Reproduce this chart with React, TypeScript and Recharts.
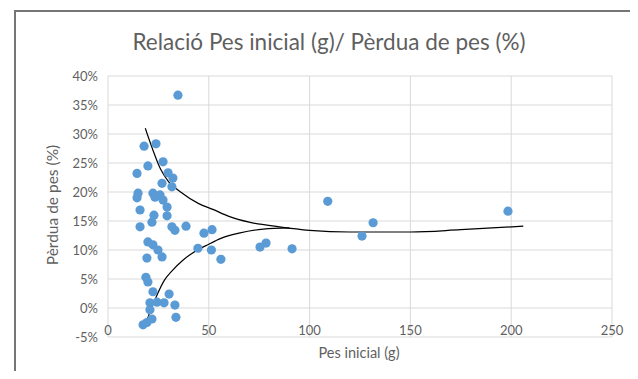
import { ComposedChart, Scatter, Line, XAxis, YAxis, CartesianGrid } from 'recharts'

// pes inicial (g) de cada mostra
const pesInicial = [
    34.7, 17.9, 23.8, 19.8, 27.3, 14.4, 29.8, 32.2, 26.8, 31.7,
    14.9, 22.3, 25.8, 14.4, 23.3, 27.3, 29.3, 15.9, 22.8, 29.3,
    21.8, 15.9, 31.7, 33.2, 38.7, 19.8, 22.3, 24.8, 26.8, 19.3,
    47.6, 51.6, 44.6, 51.3, 56, 75.4, 78.4, 91.3, 109, 126,
    131.5, 198.4, 18.8, 19.8, 22.3, 30.3, 20.8, 24.3, 27.8, 33.2,
    20.8, 33.7, 21.8, 17.4, 19.3,
]
// pèrdua de pes (%) de cada mostra
const perduaPes = [
    36.7, 27.9, 28.3, 24.5, 25.2, 23.2, 23.3, 22.4, 21.5, 20.9,
    19.8, 19.8, 19.5, 19.0, 19.1, 18.6, 17.4, 16.9, 16.0, 15.9,
    14.8, 14.0, 14.0, 13.4, 14.1, 11.4, 10.9, 10.0, 8.8, 8.6,
    12.9, 13.5, 10.3, 10.0, 8.4, 10.5, 11.2, 10.2, 18.4, 12.4,
    14.7, 16.7, 5.3, 4.5, 2.8, 2.4, 0.9, 1.0, 0.9, 0.5,
    -0.3, -1.6, -1.9, -2.9, -2.5,
]

// corbes dibuixades a sobre (envolupant superior i inferior)
const corbaSupX = [18.5, 22, 26, 30, 36, 45, 52, 60, 70, 85, 100, 120, 150, 175, 206]
const corbaSupY = [31, 27.5, 24, 21.8, 20, 18, 17, 15.8, 14.8, 14, 13.4, 13.1, 13.1, 13.5, 14.1]
const corbaInfX = [18.5, 21, 24, 28, 32, 37, 42, 50, 56, 65, 77, 90]
const corbaInfY = [-3, -0.5, 2, 4.8, 6.5, 8.2, 9.5, 11, 12, 12.9, 13.6, 13.8]

const xTicks = [0, 50, 100, 150, 200, 250]
const yTicks = [-5, 0, 5, 10, 15, 20, 25, 30, 35, 40]

const punts = pesInicial.map((x, i) => ({ x, y: perduaPes[i] }))
const corbaSup = corbaSupX.map((x, i) => ({ x, y: corbaSupY[i] }))
const corbaInf = corbaInfX.map((x, i) => ({ x, y: corbaInfY[i] }))

const FONT = 'Lato, "Open Sans", sans-serif'
const GRIS = '#5f5f5f'

const XTick = ({ x, y, payload }: any) => (
    <text x={x} y={y - 4} textAnchor="middle" fontSize={13} fill={GRIS} fontFamily={FONT}>
        {payload.value}
    </text>
)

export default function App() {
    return (
        <div style={{ position: 'relative', width: 638, height: 379, margin: -8, background: '#fff', overflow: 'hidden' }}>
            {/* marc del gràfic */}
            <div style={{ position: 'absolute', left: 14, top: 10, width: 640, height: 380, borderLeft: '2px solid #767676', borderTop: '2px solid #767676' }} />

            <div style={{ position: 'absolute', left: 0, top: 28, width: 658, textAlign: 'center', fontFamily: FONT, fontSize: 22.5, color: GRIS }}>
                Relació Pes inicial (g)/ Pèrdua de pes (%)
            </div>
            <div style={{ position: 'absolute', left: 52, top: 205, transform: 'translate(-50%, -50%) rotate(-90deg)', whiteSpace: 'nowrap', fontFamily: FONT, fontSize: 15.5, color: GRIS }}>
                Pèrdua de pes (%)
            </div>
            <div style={{ position: 'absolute', left: 359, top: 352, transform: 'translate(-50%, -50%)', whiteSpace: 'nowrap', fontFamily: FONT, fontSize: 14.5, color: GRIS }}>
                Pes inicial (g)
            </div>

            <div style={{ position: 'absolute', left: 0, top: 0 }}>
                <ComposedChart width={638} height={379} margin={{ top: 76, right: 26, left: 48, bottom: 22 }}>
                    <CartesianGrid stroke="#d9d9d9" strokeWidth={1} />
                    <XAxis
                        type="number"
                        dataKey="x"
                        domain={[0, 250]}
                        ticks={xTicks}
                        height={20}
                        tickLine={false}
                        axisLine={false}
                        tickSize={0}
                        tick={<XTick />}
                        interval={0}
                    />
                    <YAxis
                        type="number"
                        dataKey="y"
                        domain={[-5, 40]}
                        ticks={yTicks}
                        width={60}
                        tickLine={false}
                        axisLine={false}
                        tickMargin={4}
                        interval={0}
                        tickFormatter={(v: number) => `${v}%`}
                        tick={{ fontSize: 13, fill: GRIS, fontFamily: FONT }}
                    />
                    <Scatter data={punts} fill="#5b9bd5" shape={(p: any) => <circle cx={p.cx} cy={p.cy} r={4.6} fill="#5b9bd5" />} isAnimationActive={false} />
                    <Line data={corbaSup} dataKey="y" type="monotone" stroke="#000" strokeWidth={1.2} dot={false} isAnimationActive={false} />
                    <Line data={corbaInf} dataKey="y" type="monotone" stroke="#000" strokeWidth={1.2} dot={false} isAnimationActive={false} />
                </ComposedChart>
            </div>
        </div>
    )
}
